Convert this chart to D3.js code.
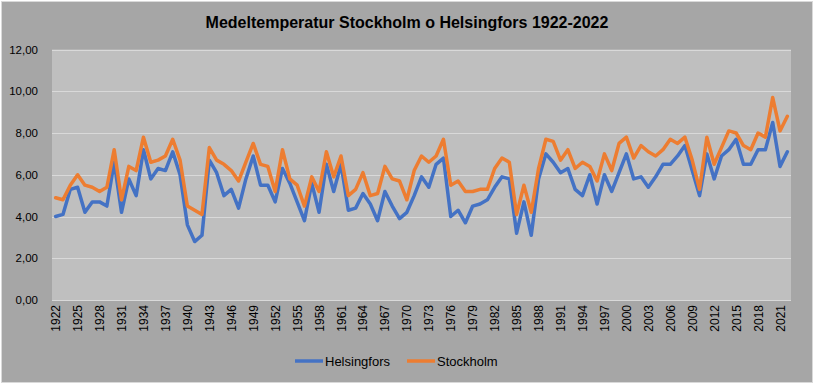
<!DOCTYPE html>
<html>
<head>
<meta charset="utf-8">
<script src="https://cdn.jsdelivr.net/npm/d3@7"></script>
<style>
    body { margin: 0; background: #ffffff; }
    text { font-family: "Liberation Sans", Arial, sans-serif; fill: #000; }
</style>
</head>
<body>
<div id="container"></div>
<script>
var width = 814,
    height = 384;

// years 1922-2022 (categories)
var years = d3.range(1922, 2023);

var helsingfors = [
    4.0, 4.1, 5.3, 5.4, 4.2, 4.7, 4.7, 4.5, 6.6, 4.2,
    5.8, 5.0, 7.2, 5.8, 6.3, 6.2, 7.1, 6.0, 3.6, 2.8,
    3.1, 6.7, 6.1, 5.0, 5.3, 4.4, 5.8, 6.9, 5.5, 5.5,
    4.7, 6.3, 5.6, 4.7, 3.8, 5.6, 4.2, 6.5, 5.2, 6.5,
    4.3, 4.4, 5.1, 4.6, 3.8, 5.2, 4.5, 3.9, 4.2, 5.0,
    5.9, 5.4, 6.5, 6.8, 4.0, 4.3, 3.7, 4.5, 4.6, 4.8,
    5.4, 5.9, 5.8, 3.2, 4.7, 3.1, 5.8, 7.0, 6.6, 6.1,
    6.3, 5.3, 5.0, 6.0, 4.6, 6.0, 5.2, 6.1, 7.0, 5.8,
    5.9, 5.4, 5.9, 6.5, 6.5, 6.9, 7.4, 6.2, 5.0, 7.0,
    5.8, 6.9, 7.2, 7.7, 6.5, 6.5, 7.2, 7.2, 8.5, 6.4, 7.1
];

var stockholm = [
    4.9, 4.8, 5.5, 6.0, 5.5, 5.4, 5.2, 5.4, 7.2, 4.8,
    6.4, 6.2, 7.8, 6.6, 6.7, 6.9, 7.7, 6.7, 4.5, 4.3,
    4.1, 7.3, 6.7, 6.5, 6.2, 5.7, 6.6, 7.5, 6.5, 6.4,
    5.2, 7.2, 5.8, 5.5, 4.5, 5.9, 5.2, 7.1, 5.9, 6.9,
    5.0, 5.3, 6.1, 5.0, 5.1, 6.4, 5.8, 5.7, 4.8, 6.2,
    6.9, 6.6, 6.9, 7.7, 5.5, 5.7, 5.2, 5.2, 5.3, 5.3,
    6.3, 6.8, 6.6, 4.1, 5.5, 4.2, 6.3, 7.7, 7.6, 6.7,
    7.2, 6.3, 6.6, 6.4, 5.7, 7.0, 6.2, 7.5, 7.8, 6.8,
    7.4, 7.1, 6.9, 7.2, 7.7, 7.5, 7.8, 6.7, 5.3, 7.8,
    6.5, 7.3, 8.1, 8.0, 7.4, 7.2, 8.0, 7.8, 9.7, 8.1, 8.8
];

var yTicks = [0, 2, 4, 6, 8, 10, 12];
var xTickYears = years.filter(function (d) { return (d - 1922) % 3 === 0; });

var series = [
    { name: "Helsingfors", values: helsingfors, color: "#4472c4" },
    { name: "Stockholm", values: stockholm, color: "#ed7d31" }
];

var plot = { left: 52, right: 791, top: 49.5, bottom: 300 };

var svg = d3.select("#container")
    .append("svg")
    .attr("width", width)
    .attr("height", height);

// chart background + border
svg.append("rect")
    .attr("x", 1.5).attr("y", 1.5)
    .attr("width", width - 3).attr("height", height - 3)
    .attr("fill", "#a6a6a6")
    .attr("stroke", "#d9d9d9")
    .attr("stroke-width", 1);

// plot area
svg.append("rect")
    .attr("x", plot.left).attr("y", plot.top)
    .attr("width", plot.right - plot.left)
    .attr("height", plot.bottom - plot.top)
    .attr("fill", "#bfbfbf");

var x = d3.scaleBand()
    .domain(years)
    .range([plot.left, plot.right])
    .padding(0);

var y = d3.scaleLinear()
    .domain([0, 12])
    .range([plot.bottom, plot.top]);

function xc(year) {
    return x(year) + x.bandwidth() / 2;
}

// gridlines
svg.append("g")
    .selectAll("line")
    .data(yTicks)
    .enter().append("line")
    .attr("x1", plot.left)
    .attr("x2", plot.right)
    .attr("y1", function (d) { return Math.round(y(d)) + 0.5; })
    .attr("y2", function (d) { return Math.round(y(d)) + 0.5; })
    .attr("stroke", "#d9d9d9")
    .attr("stroke-width", 1);

// y axis labels
svg.append("g")
    .selectAll("text")
    .data(yTicks)
    .enter().append("text")
    .attr("x", 38)
    .attr("y", function (d) { return y(d); })
    .attr("dy", "0.35em")
    .attr("text-anchor", "end")
    .attr("font-size", "11.5px")
    .text(function (d) { return d3.format(".2f")(d).replace(".", ","); });

// x axis labels (rotated)
svg.append("g")
    .selectAll("text")
    .data(xTickYears)
    .enter().append("text")
    .attr("transform", function (d) {
        return "translate(" + (xc(d) + 4.5) + "," + (plot.bottom + 5) + ") rotate(-90)";
    })
    .attr("text-anchor", "end")
    .attr("font-size", "12px")
    .text(function (d) { return d; });

// lines
var line = d3.line()
    .x(function (d, i) { return xc(years[i]); })
    .y(function (d) { return y(d); });

svg.append("g")
    .selectAll("path")
    .data(series)
    .enter().append("path")
    .attr("d", function (d) { return line(d.values); })
    .attr("fill", "none")
    .attr("stroke", function (d) { return d.color; })
    .attr("stroke-width", 3.5)
    .attr("stroke-linejoin", "round")
    .attr("stroke-linecap", "round");

// title
svg.append("text")
    .attr("x", 407)
    .attr("y", 28)
    .attr("text-anchor", "middle")
    .attr("font-size", "16px")
    .attr("font-weight", "bold")
    .text("Medeltemperatur Stockholm o Helsingfors 1922-2022");

// legend
var legend = svg.append("g")
    .selectAll("g")
    .data(series)
    .enter().append("g")
    .attr("transform", function (d, i) {
        return "translate(" + (i === 0 ? 295 : 407) + ",361)";
    });

legend.append("line")
    .attr("x1", 0).attr("x2", 28)
    .attr("y1", 0).attr("y2", 0)
    .attr("stroke", function (d) { return d.color; })
    .attr("stroke-width", 3.5);

legend.append("text")
    .attr("x", 30)
    .attr("y", 0)
    .attr("dy", "0.35em")
    .attr("font-size", "13px")
    .text(function (d) { return d.name; });
</script>
</body>
</html>
